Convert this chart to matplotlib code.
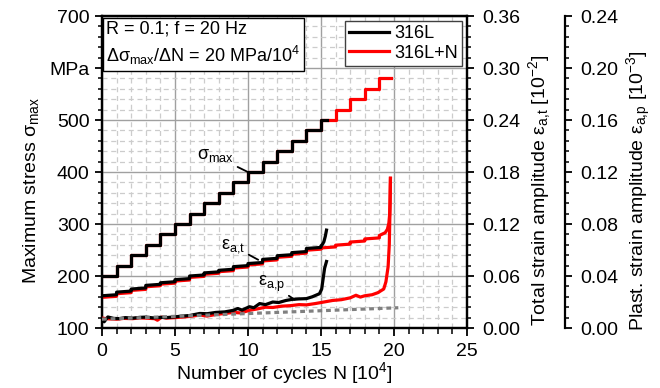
import matplotlib
matplotlib.use("Agg")
import matplotlib.pyplot as plt
from matplotlib.ticker import MultipleLocator, FormatStrFormatter

plt.rcParams['font.family'] = ['Liberation Sans', 'DejaVu Sans']
plt.rcParams['mathtext.fontset'] = 'custom'
plt.rcParams['mathtext.rm'] = 'Liberation Sans'
plt.rcParams['mathtext.it'] = 'Liberation Sans:italic'
plt.rcParams['font.size'] = 14

# ---------------- data ----------------
# stress staircase (load increase 20 MPa per 10^4 cycles)
N_sig_316L = [0, 1, 2, 3, 4, 5, 6, 7, 8, 9, 10, 11, 12, 13, 14, 15, 15.38]
sig_316L = [200, 220, 240, 260, 280, 300, 320, 340, 360, 380, 400, 420, 440, 460, 480, 500, 500]
N_sig_316LN = [0, 1, 2, 3, 4, 5, 6, 7, 8, 9, 10, 11, 12, 13, 14, 15, 16, 17, 18, 19, 19.77]
sig_316LN = [200, 220, 240, 260, 280, 300, 320, 340, 360, 380, 400, 420, 440, 460, 480, 500,
             520, 540, 560, 580, 580]

# total strain amplitude [10^-2]
N_t_316L = [0, 1, 1, 2, 2, 3, 3, 4, 4, 5, 5, 6, 6, 7, 7, 8, 8, 9, 9, 10, 10, 11, 11, 12,
            12, 13, 13, 14, 14, 15, 15, 15.1, 15.2, 15.3, 15.38]
eps_t_316L = [0.0372, 0.0384, 0.0414, 0.0426, 0.0450, 0.0462, 0.0492, 0.0504, 0.0522, 0.0534,
              0.0558, 0.0570, 0.0600, 0.0612, 0.0636, 0.0648, 0.0666, 0.0678, 0.0708, 0.0720,
              0.0744, 0.0756, 0.0792, 0.0804, 0.0834, 0.0846, 0.0870, 0.0882, 0.0918, 0.0930,
              0.0948, 0.0965, 0.0995, 0.1060, 0.1130]
N_t_316LN = [0, 1, 1, 2, 2, 3, 3, 4, 4, 5, 5, 6, 6, 7, 7, 8, 8, 9, 9, 10, 10, 11, 11, 12,
             12, 13, 13, 14, 14, 15, 15, 16, 16, 17, 17, 18, 18, 19, 19, 19.4, 19.55, 19.65,
             19.7, 19.73, 19.76]
eps_t_316LN = [0.0354, 0.0366, 0.0396, 0.0408, 0.0434, 0.0446, 0.0476, 0.0488, 0.0506, 0.0518,
               0.0542, 0.0554, 0.0584, 0.0596, 0.0620, 0.0632, 0.0650, 0.0662, 0.0692, 0.0704,
               0.0728, 0.0740, 0.0774, 0.0786, 0.0816, 0.0828, 0.0852, 0.0864, 0.0898, 0.0910,
               0.0924, 0.0936, 0.0956, 0.0968, 0.0992, 0.1004, 0.1028, 0.1040, 0.1068, 0.1100,
               0.1140, 0.1210, 0.1300, 0.1450, 0.1728]

# plastic strain amplitude [10^-3]
N_p_316L = [0, 0.15, 0.4, 0.8, 1.2, 1.6, 2.1, 2.6, 3.0, 3.5, 4.0, 4.4, 5.0, 5.5, 6.0, 6.7,
            7.2, 7.8, 8.4, 9.0, 9.3, 9.6, 10.1, 10.4, 10.8, 11.2, 11.7, 12.1, 12.6, 13.0,
            13.5, 14.0, 14.4, 14.9, 15.05, 15.15, 15.25, 15.38]
eps_p_316L = [0.0068, 0.0048, 0.0085, 0.0074, 0.0072, 0.0080, 0.0076, 0.0082, 0.0084, 0.0078,
              0.0082, 0.0080, 0.0086, 0.0092, 0.0096, 0.0112, 0.0110, 0.0120, 0.0124, 0.0136,
              0.0150, 0.0138, 0.0164, 0.0156, 0.0188, 0.0180, 0.0200, 0.0196, 0.0212, 0.0220,
              0.0224, 0.0226, 0.0240, 0.0264, 0.0300, 0.0380, 0.0460, 0.0512]
N_p_316LN = [0, 0.5, 1.0, 1.5, 2.1, 2.6, 3.0, 3.6, 3.8, 4.1, 4.4, 5.0, 5.5, 6.1, 6.7, 7.2,
             7.8, 8.4, 9.0, 9.5, 10.1, 10.6, 11.2, 11.7, 12.3, 12.9, 13.5, 14.0, 14.6, 15.2,
             15.8, 16.4, 17.0, 17.4, 17.7, 18.0, 18.5, 18.9, 19.3, 19.45, 19.6, 19.68, 19.73,
             19.76]
eps_p_316LN = [0.0076, 0.0070, 0.0068, 0.0074, 0.0072, 0.0078, 0.0076, 0.0072, 0.0060, 0.0084,
               0.0076, 0.0080, 0.0084, 0.0090, 0.0100, 0.0092, 0.0104, 0.0112, 0.0120, 0.0116,
               0.0136, 0.0146, 0.0160, 0.0158, 0.0168, 0.0172, 0.0180, 0.0178, 0.0188, 0.0200,
               0.0212, 0.0218, 0.0232, 0.0252, 0.0238, 0.0248, 0.0256, 0.0272, 0.0300, 0.0356,
               0.0472, 0.0640, 0.0920, 0.1152]
N_ref = [0, 20.3]
eps_p_ref = [0.0068, 0.0156]

# ---------------- figure ----------------
FS = 14
fig = plt.figure(figsize=(6.6, 3.88), dpi=100)
ax = fig.add_axes([0.1545, 0.1546, 0.553, 0.804])
ax2 = ax.twinx()
ax3 = ax.twinx()

spine_lw = 1.6
for a in (ax, ax2, ax3):
    for s in a.spines.values():
        s.set_linewidth(spine_lw)

# main axis
ax.set_xlim(0, 25)
ax.set_ylim(100, 700)
ax.xaxis.set_major_locator(MultipleLocator(5))
ax.xaxis.set_minor_locator(MultipleLocator(1))
ax.set_yticks([100, 200, 300, 400, 500, 600, 700])
ax.set_yticklabels(['100', '200', '300', '400', '500', 'MPa', '700'])
ax.yaxis.set_minor_locator(MultipleLocator(20))
ax.grid(which='major', color='#a0a0a0', lw=1.0, ls='-')
ax.grid(which='minor', color='#cccccc', lw=0.9, ls=(0, (4, 3)))
ax.set_axisbelow(True)
ax.tick_params(which='major', direction='out', length=5, width=1.3, labelsize=FS, pad=4)
ax.tick_params(which='minor', direction='out', length=3, width=1.1)
ax.tick_params(axis='x', which='major', length=6, pad=5)
ax.tick_params(axis='x', which='minor', length=4)

ax.step(N_sig_316LN, sig_316LN, where='post', color='#ff0000', lw=2.3)
ax.step(N_sig_316L, sig_316L, where='post', color='black', lw=2.3)

ax.set_xlabel('Number of cycles N [10$^{\\mathregular{4}}$]', fontsize=FS, labelpad=0)
ax.set_ylabel('Maximum stress σ$_{\\mathregular{max}}$', fontsize=FS)
ax.yaxis.set_label_coords(-0.168, 0.44)

# total strain axis
ax2.set_ylim(0, 0.36)
ax2.yaxis.set_major_locator(MultipleLocator(0.06))
ax2.yaxis.set_minor_locator(MultipleLocator(0.012))
ax2.yaxis.set_major_formatter(FormatStrFormatter('%.2f'))
ax2.tick_params(which='major', direction='out', length=5, width=1.3, labelsize=FS, pad=6)
ax2.tick_params(which='minor', direction='out', length=3, width=1.1)
ax2.set_ylabel('Total strain amplitude ε$_{\\mathregular{a{,}t}}$ [10$^{\\mathregular{-2}}$]', fontsize=FS)
ax2.yaxis.set_label_coords(1.163, 0.44)

ax2.plot(N_t_316LN, eps_t_316LN, color='#ff0000', lw=2.3)
ax2.plot(N_t_316L, eps_t_316L, color='black', lw=2.3)

# plastic strain axis
ax3.spines['right'].set_position(('axes', 1.268))
for s in ('left', 'top', 'bottom'):
    ax3.spines[s].set_visible(False)
ax3.set_ylim(0, 0.24)
ax3.yaxis.set_major_locator(MultipleLocator(0.04))
ax3.yaxis.set_minor_locator(MultipleLocator(0.008))
ax3.yaxis.set_major_formatter(FormatStrFormatter('%.2f'))
ax3.tick_params(which='major', direction='out', length=5, width=1.3, labelsize=FS, pad=6)
ax3.tick_params(which='minor', direction='out', length=3, width=1.1)
ax3.set_ylabel('Plast. strain amplitude ε$_{\\mathregular{a{,}p}}$ [10$^{\\mathregular{-3}}$]', fontsize=FS)
ax3.yaxis.set_label_coords(1.432, 0.44)

ax3.plot(N_p_316LN, eps_p_316LN, color='#ff0000', lw=2.3)
ax3.plot(N_p_316L, eps_p_316L, color='black', lw=2.3)
ax3.plot(N_ref, eps_p_ref, color='#808080', lw=2.3, ls=(0, (1.5, 1.2)))

# annotations
ax.annotate('σ$_{\\mathregular{max}}$', xy=(10, 400), xytext=(7.75, 431),
            ha='center', va='center', fontsize=13,
            arrowprops=dict(arrowstyle='-', lw=1.3, color='black', shrinkA=1, shrinkB=0))
ax3.annotate('ε$_{\\mathregular{a{,}t}}$', xy=(10.7, 0.0525), xytext=(8.95, 0.0631),
             ha='center', va='center', fontsize=13,
             arrowprops=dict(arrowstyle='-', lw=1.3, color='black', shrinkA=1, shrinkB=0))
ax3.annotate('ε$_{\\mathregular{a{,}p}}$', xy=(13.2, 0.0218), xytext=(11.6, 0.0338),
             ha='center', va='center', fontsize=13,
             arrowprops=dict(arrowstyle='-', lw=1.3, color='black', shrinkA=1, shrinkB=0))

# text box
ax3.text(0.012, 0.987, 'R = 0.1; f = 20 Hz\nΔσ$_{\\mathregular{max}}$/ΔN = 20 MPa/10$^{\\mathregular{4}}$',
         transform=ax.transAxes, ha='left', va='top', fontsize=13, linespacing=1.4,
         bbox=dict(boxstyle='square,pad=0.18', fc='white', ec='black', lw=1.0), zorder=10)

# legend
h1, = ax.plot([], [], color='black', lw=2.3)
h2, = ax.plot([], [], color='#ff0000', lw=2.3)
leg = ax3.legend([h1, h2], ['316L', '316L+N'], loc='upper right', fontsize=13,
                 frameon=True, fancybox=False, framealpha=1, edgecolor='#404040',
                 handlelength=2.2, handletextpad=0.3, borderaxespad=0.25,
                 borderpad=0.25, labelspacing=0.15)
leg.get_frame().set_linewidth(1.0)
leg.set_zorder(10)

fig.savefig('out.png', dpi=100)
